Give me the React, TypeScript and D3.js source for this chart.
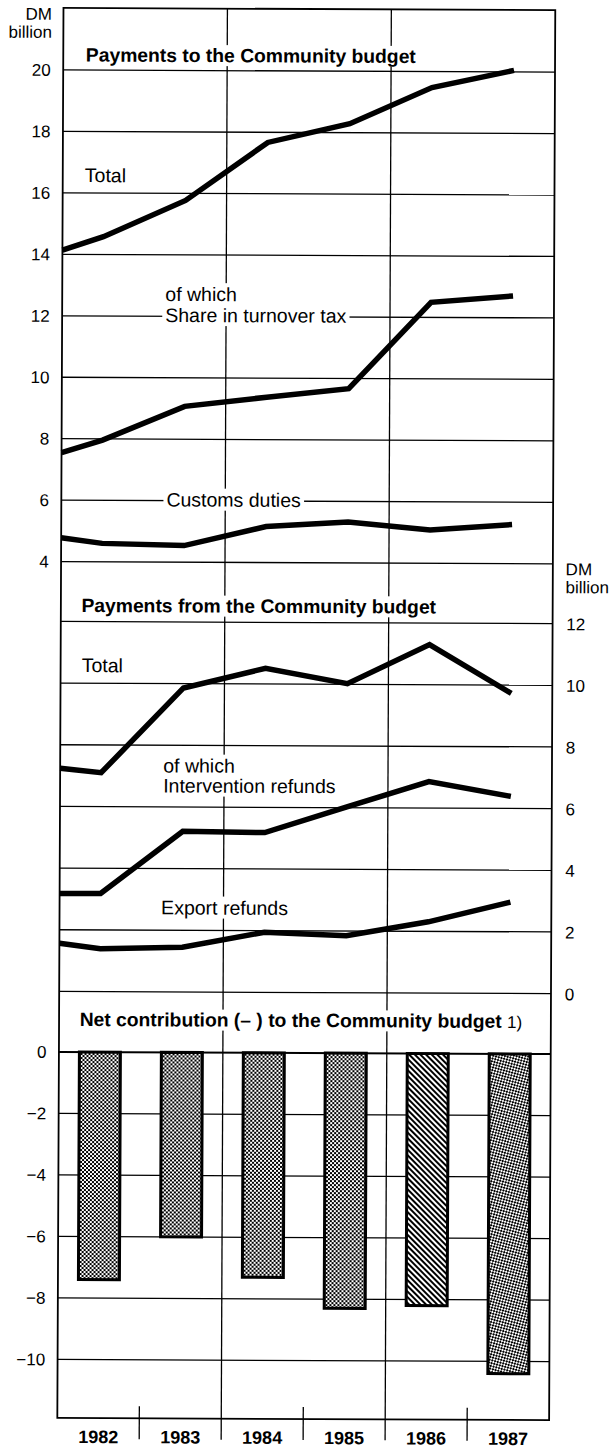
import React, { useEffect, useRef } from "react";
import * as d3 from "d3";

// ---- data ----
const years = [1982, 1983, 1984, 1985, 1986, 1987];
// line series start at the left frame edge (1981.5) and then run through each year
const lineX = [1981.5, 1982, 1983, 1984, 1985, 1986, 1987];

const toTotal = [14.14, 14.58, 15.77, 17.67, 18.29, 19.48, 20.05];
const toTurnoverTax = [7.55, 7.96, 9.07, 9.38, 9.67, 12.49, 12.71];
const toCustomsDuties = [4.78, 4.6, 4.54, 5.17, 5.33, 5.08, 5.27];

const fromTotal = [7.24, 7.1, 9.86, 10.51, 10.02, 11.3, 9.73];
const fromIntervention = [3.18, 3.18, 5.21, 5.18, 6.03, 6.86, 6.39];
const fromExport = [1.56, 1.39, 1.45, 1.95, 1.85, 2.31, 2.96];

const netContribution = [-7.4, -6.0, -7.3, -8.3, -8.2, -10.4];

const topTicks = [20, 18, 16, 14, 12, 10, 8, 6, 4];
const midTicks = [12, 10, 8, 6, 4, 2, 0];
const botTicks = [0, -2, -4, -6, -8, -10];

const FONT = "'Liberation Sans', Arial, Helvetica, sans-serif";

export default function App() {
  const ref = useRef<SVGSVGElement | null>(null);

  useEffect(() => {
    const svg = d3.select(ref.current);
    svg.selectAll("*").remove();

    const left = 60.4;
    const right = 552.2;
    const top = 9;
    const bottom = 1419;

    const xLin = d3.scaleLinear().domain([1981.5, 1987.5]).range([left, right]);
    const xBand = d3.scaleBand<number>().domain(years).range([left, right]);
    const yTop = d3.scaleLinear().domain([4, 20]).range([562.7, 71]);
    const yMid = d3.scaleLinear().domain([0, 12]).range([992.5, 622.5]);
    const yBot = d3.scaleLinear().domain([-10, 0]).range([1360.5, 1053]);

    // patterns
    const defs = svg.append("defs");
    const check = defs
      .append("pattern")
      .attr("id", "check")
      .attr("patternUnits", "userSpaceOnUse")
      .attr("width", 4)
      .attr("height", 4);
    check.append("rect").attr("width", 4).attr("height", 4).attr("fill", "#fff");
    check.append("rect").attr("width", 2).attr("height", 2).attr("fill", "#000");
    check.append("rect").attr("x", 2).attr("y", 2).attr("width", 2).attr("height", 2).attr("fill", "#000");

    const hatch = defs
      .append("pattern")
      .attr("id", "hatch")
      .attr("patternUnits", "userSpaceOnUse")
      .attr("width", 4)
      .attr("height", 4)
      .attr("patternTransform", "rotate(-45)");
    hatch.append("rect").attr("width", 4).attr("height", 4).attr("fill", "#fff");
    hatch.append("rect").attr("width", 2).attr("height", 4).attr("fill", "#000");

    const cross = defs
      .append("pattern")
      .attr("id", "cross")
      .attr("patternUnits", "userSpaceOnUse")
      .attr("width", 4)
      .attr("height", 4)
      .attr("patternTransform", "rotate(-30)");
    cross.append("rect").attr("width", 4).attr("height", 4).attr("fill", "#fff");
    cross.append("rect").attr("width", 2).attr("height", 2).attr("fill", "#000");
    cross.append("rect").attr("x", 2).attr("y", 2).attr("width", 2).attr("height", 2).attr("fill", "#000");

    // the printed chart is very slightly rotated on the page
    const root = svg
      .append("g")
      .attr("font-family", FONT)
      .attr("fill", "#000")
      .attr("transform", "rotate(0.25 305 714)");
    const gridLayer = root.append("g");
    const knockLayer = root.append("g");
    const textLayer = root.append("g");
    const dataLayer = root.append("g");

    const gridW = 1.3;

    const hLine = (y: number, w: number) =>
      gridLayer
        .append("line")
        .attr("x1", left)
        .attr("x2", right)
        .attr("y1", y)
        .attr("y2", y)
        .attr("stroke", "#000")
        .attr("stroke-width", w);

    topTicks.forEach((t) => hLine(yTop(t), gridW));
    midTicks.forEach((t) => hLine(yMid(t), gridW));
    botTicks.forEach((t) => hLine(yBot(t), t === 0 ? 2 : gridW));

    // vertical gridlines (between 1983/84 and 1985/86) extend below frame
    [1983.5, 1985.5].forEach((v) =>
      gridLayer
        .append("line")
        .attr("x1", xLin(v))
        .attr("x2", xLin(v))
        .attr("y1", top)
        .attr("y2", 1440)
        .attr("stroke", "#000")
        .attr("stroke-width", gridW)
    );
    // short ticks at the other year boundaries
    [1982.5, 1984.5, 1986.5].forEach((v) =>
      gridLayer
        .append("line")
        .attr("x1", xLin(v))
        .attr("x2", xLin(v))
        .attr("y1", 1407)
        .attr("y2", 1440)
        .attr("stroke", "#000")
        .attr("stroke-width", gridW)
    );

    // frame
    gridLayer
      .append("rect")
      .attr("x", left)
      .attr("y", top)
      .attr("width", right - left)
      .attr("height", bottom - top)
      .attr("fill", "none")
      .attr("stroke", "#000")
      .attr("stroke-width", 1.8);

    // text helper with white knockout behind
    const label = (
      txt: string,
      x: number,
      y: number,
      opts: { size?: number; weight?: string; anchor?: string; knock?: boolean } = {}
    ) => {
      const { size = 19.5, weight = "normal", anchor = "start", knock = true } = opts;
      const t = textLayer
        .append("text")
        .attr("x", x)
        .attr("y", y)
        .attr("font-size", size)
        .attr("font-weight", weight)
        .attr("text-anchor", anchor)
        .text(txt);
      if (knock) {
        const b = (t.node() as SVGTextElement).getBBox();
        knockLayer
          .append("rect")
          .attr("x", b.x - 3)
          .attr("y", b.y)
          .attr("width", b.width + 6)
          .attr("height", b.height)
          .attr("fill", "#fff");
      }
      return t;
    };

    // axis labels
    label("DM", 49, 21, { size: 17, anchor: "end", knock: false });
    label("billion", 49, 39, { size: 17, anchor: "end", knock: false });
    topTicks.forEach((t) => label(String(t), 48, yTop(t) + 6, { size: 17, anchor: "end", knock: false }));

    label("DM", 565, 574, { size: 17, knock: false });
    label("billion", 565, 592, { size: 17, knock: false });
    midTicks.forEach((t) => label(String(t), 566, yMid(t) + 6.5, { size: 17, knock: false }));

    botTicks.forEach((t) =>
      label(t === 0 ? "0" : "\u2212" + String(Math.abs(t)), 48, yBot(t) + 6, {
        size: 17,
        anchor: "end",
        knock: false,
      })
    );

    years.forEach((yr) =>
      label(String(yr), (xBand(yr) as number) + xBand.bandwidth() / 2, 1444, {
        size: 18,
        weight: "bold",
        anchor: "middle",
        knock: false,
      })
    );

    // titles and series labels
    label("Payments to the Community budget", 83, 62.5, { weight: "bold", size: 19.3 });
    label("Total", 82.5, 183);
    label("of which", 163.5, 301.5);
    label("Share in turnover tax", 163.5, 322.5);
    label("Customs duties", 165.5, 507);

    label("Payments from the Community budget", 81, 613, { weight: "bold", size: 19.3 });
    label("Total", 81.5, 673);
    label("of which", 163.5, 773);
    label("Intervention refunds", 163.5, 793);
    label("Export refunds", 162, 915);

    const net = textLayer
      .append("text")
      .attr("x", 81)
      .attr("y", 1027)
      .attr("font-size", 19.3)
      .attr("font-weight", "bold");
    net.append("tspan").text("Net contribution (\u2013 ) to the Community budget ");
    net.append("tspan").attr("font-weight", "normal").attr("font-size", 17).text("1)");
    {
      const b = (net.node() as SVGTextElement).getBBox();
      knockLayer
        .append("rect")
        .attr("x", b.x - 3)
        .attr("y", b.y)
        .attr("width", b.width + 6)
        .attr("height", b.height)
        .attr("fill", "#fff");
    }

    // lines
    const drawLine = (vals: number[], y: d3.ScaleLinear<number, number>) => {
      const gen = d3
        .line<number>()
        .x((_, i) => xLin(lineX[i]))
        .y((d) => y(d));
      dataLayer
        .append("path")
        .attr("d", gen(vals) as string)
        .attr("fill", "none")
        .attr("stroke", "#000")
        .attr("stroke-width", 5.5)
        .attr("stroke-linejoin", "miter")
        .attr("stroke-miterlimit", 3);
    };
    drawLine(toTotal, yTop);
    drawLine(toTurnoverTax, yTop);
    drawLine(toCustomsDuties, yTop);
    drawLine(fromTotal, yMid);
    drawLine(fromIntervention, yMid);
    drawLine(fromExport, yMid);

    // bars
    const bw = xBand.bandwidth() * 0.5;
    const patternFor = (yr: number) => (yr === 1986 ? "hatch" : yr === 1987 ? "cross" : "check");
    years.forEach((yr, i) => {
      const v = netContribution[i];
      const x0 = (xBand(yr) as number) + xBand.bandwidth() / 2 - bw / 2;
      dataLayer
        .append("rect")
        .attr("x", x0)
        .attr("y", yBot(0))
        .attr("width", bw)
        .attr("height", yBot(v) - yBot(0))
        .attr("fill", `url(#${patternFor(yr)})`)
        .attr("stroke", "#000")
        .attr("stroke-width", 3);
    });
  }, []);

  return (
    <svg
      ref={ref}
      width={610}
      height={1448}
      style={{ position: "absolute", left: 0, top: 0, background: "#fff" }}
    />
  );
}
